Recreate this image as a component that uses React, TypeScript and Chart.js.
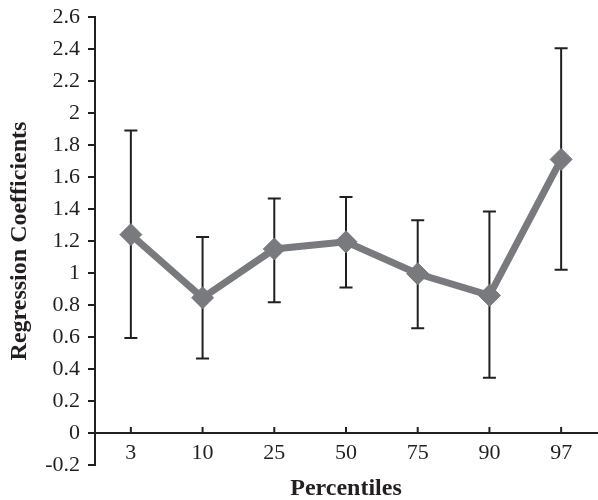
import React, { useEffect, useRef } from "react";
import { Chart, registerables } from "chart.js";

Chart.register(...registerables);

const categories = ["3", "10", "25", "50", "75", "90", "97"];
const coefficients = [1.24, 0.845, 1.15, 1.195, 0.995, 0.86, 1.71];
const upperBounds = [1.89, 1.225, 1.465, 1.475, 1.33, 1.385, 2.405];
const lowerBounds = [0.593, 0.466, 0.817, 0.91, 0.655, 0.346, 1.02];

const INK = "#231f20";
const LINE_GRAY = "#797a7d";
const SERIF = "'Liberation Serif', 'Times New Roman', serif";

const errorBarPlugin = {
  id: "errorBars",
  beforeDatasetsDraw(chart: any) {
    const { ctx, scales } = chart;
    const xs = scales.x;
    const ys = scales.y;
    ctx.save();
    ctx.strokeStyle = INK;
    ctx.lineWidth = 2;
    ctx.lineCap = "butt";
    const cap = 6.5;
    categories.forEach((_, i) => {
      const x = xs.getPixelForValue(i);
      const yTop = ys.getPixelForValue(upperBounds[i]);
      const yBot = ys.getPixelForValue(lowerBounds[i]);
      ctx.beginPath();
      ctx.moveTo(x, yTop);
      ctx.lineTo(x, yBot);
      ctx.moveTo(x - cap, yTop);
      ctx.lineTo(x + cap, yTop);
      ctx.moveTo(x - cap, yBot);
      ctx.lineTo(x + cap, yBot);
      ctx.stroke();
    });
    // inward tick marks on the category axis (at y = 0)
    const y0 = ys.getPixelForValue(0);
    ctx.beginPath();
    categories.forEach((_, i) => {
      const x = xs.getPixelForValue(i);
      ctx.moveTo(x, y0);
      ctx.lineTo(x, y0 - 6);
    });
    ctx.stroke();
    ctx.restore();
  },
};

export default function App() {
  const canvasRef = useRef<HTMLCanvasElement | null>(null);

  useEffect(() => {
    if (!canvasRef.current) return;
    const chart = new Chart(canvasRef.current, {
      type: "line",
      data: {
        labels: categories,
        datasets: [
          {
            data: coefficients,
            borderColor: LINE_GRAY,
            backgroundColor: LINE_GRAY,
            borderWidth: 7,
            pointStyle: "rectRot",
            pointRadius: 11,
            pointBorderWidth: 1,
            pointBackgroundColor: LINE_GRAY,
            pointBorderColor: LINE_GRAY,
            tension: 0,
          },
        ],
      },
      options: {
        animation: false,
        responsive: true,
        maintainAspectRatio: false,
        layout: { autoPadding: false, padding: { top: 17, right: 1, left: 0, bottom: 35 } },
        plugins: {
          legend: { display: false },
          tooltip: { enabled: false },
          title: { display: false },
        },
        scales: {
          x: {
            type: "category",
            offset: true,
            position: { y: 0 } as any,
            afterFit(scale: any) {
              scale.paddingLeft = 0;
              scale.paddingRight = 0;
            },
            grid: { display: false, drawTicks: false },
            border: { display: true, color: INK, width: 2 },
            ticks: {
              color: INK,
              font: { family: SERIF, size: 22 },
              padding: 7,
              maxRotation: 0,
              autoSkip: false,
            },
            title: {
              display: true,
              text: "Percentiles",
              color: INK,
              font: { family: SERIF, size: 24, weight: "bold" },
              padding: { top: 1, bottom: 0 },
            },
          },
          y: {
            min: -0.2,
            max: 2.6,
            afterFit(scale: any) {
              scale.width = 95;
              scale.paddingTop = 0;
              scale.paddingBottom = 0;
            },
            grid: {
              drawOnChartArea: false,
              drawTicks: true,
              tickLength: 7,
              color: INK,
              lineWidth: 2,
            },
            border: { display: true, color: INK, width: 2 },
            ticks: {
              stepSize: 0.2,
              color: INK,
              padding: 8,
              font: { family: SERIF, size: 22 },
              callback: (v: any) => String(Number(Number(v).toFixed(1))),
            },
            title: {
              display: true,
              text: "Regression Coefficients",
              color: INK,
              font: { family: SERIF, size: 24, weight: "bold" },
              padding: { top: 5, bottom: 0 },
            },
          },
        },
      },
      plugins: [errorBarPlugin],
    });
    return () => chart.destroy();
  }, []);

  return (
    <div style={{ position: "absolute", left: 0, top: 0, width: 598, height: 500, background: "#fff" }}>
      <canvas ref={canvasRef} />
    </div>
  );
}
